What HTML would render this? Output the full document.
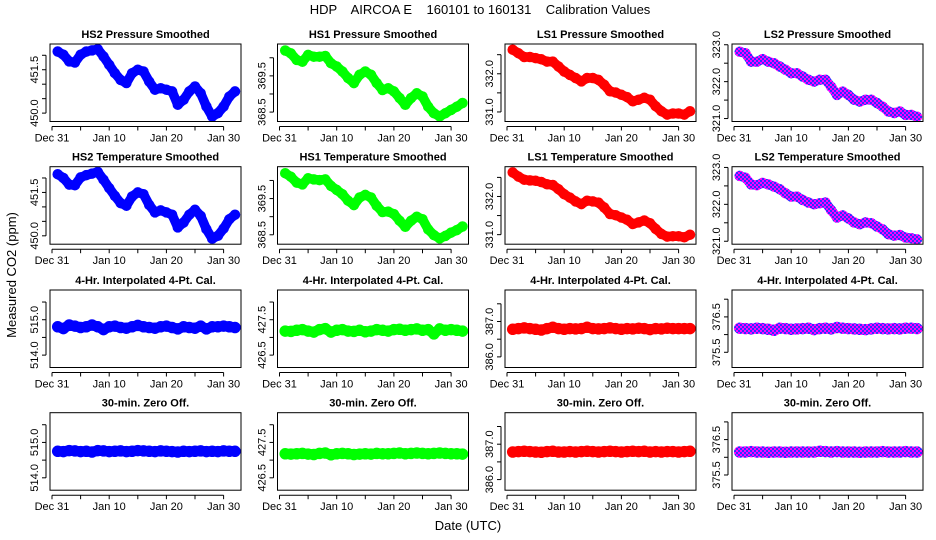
<!DOCTYPE html>
<html><head><meta charset="utf-8">
<style>
html,body{margin:0;padding:0;background:#fff;}
svg{display:block;font-family:"Liberation Sans",Arial,sans-serif;}
</style></head>
<body>
<svg id="chart" width="936" height="540" viewBox="0 0 936 540" xmlns="http://www.w3.org/2000/svg">
<defs>
<pattern id="chk" patternUnits="userSpaceOnUse" width="4" height="4">
<rect width="4" height="4" fill="#ff00ff"/>
<rect x="0" y="0" width="2" height="2" fill="#3030ff"/>
<rect x="2" y="2" width="2" height="2" fill="#3030ff"/>
</pattern>
</defs>
<text x="480" y="14" font-size="13" text-anchor="middle" xml:space="preserve">HDP    AIRCOA E    160101 to 160131    Calibration Values</text>
<text x="468" y="530" font-size="13" text-anchor="middle">Date (UTC)</text>
<text x="0" y="0" font-size="13" text-anchor="middle" transform="translate(16,275) rotate(-90)">Measured CO2 (ppm)</text>
<g id="panels"></g>
</svg>
<script>
// ---- data ----
var days = [1,2,3,4,5,6,7,8,9,10,11,12,13,14,15,16,17,18,19,20,21,22,23,24,25,26,27,28,29,30,31,32];
var xTickDays = [0,5,10,15,20,25,30];
var xTickLabels = ["Dec 31","","Jan 10","","Jan 20","","Jan 30"];

var hs2Pressure = [452.13,452.02,451.79,451.75,452.02,452.13,452.17,452.21,451.96,451.67,451.38,451.15,451.04,451.38,451.50,451.44,451.09,450.81,450.86,450.81,450.75,450.29,450.46,450.75,450.92,450.69,450.23,449.88,450.00,450.23,450.57,450.75];
var hs2Temp = [452.13,452.00,451.77,451.75,452.02,452.10,452.15,452.21,451.94,451.65,451.38,451.13,451.04,451.36,451.50,451.44,451.07,450.81,450.88,450.81,450.73,450.29,450.46,450.73,450.90,450.69,450.23,449.90,450.00,450.25,450.57,450.73];
var hs1Pressure = [370.20,370.12,369.94,369.89,370.08,370.03,370.03,370.05,369.85,369.76,369.62,369.44,369.30,369.53,369.62,369.53,369.30,369.11,369.16,369.07,368.89,368.70,368.89,369.02,368.93,368.65,368.47,368.38,368.47,368.56,368.65,368.75];
var hs1Temp = [370.20,370.10,369.94,369.89,370.06,370.03,370.01,370.03,369.85,369.74,369.62,369.44,369.32,369.53,369.60,369.53,369.30,369.13,369.14,369.07,368.89,368.72,368.89,369.00,368.93,368.65,368.49,368.40,368.47,368.56,368.63,368.73];
var ls1Pressure = [332.63,332.54,332.44,332.44,332.41,332.38,332.32,332.32,332.19,332.06,331.97,331.89,331.80,331.89,331.89,331.84,331.71,331.54,331.51,331.45,331.39,331.28,331.32,331.37,331.32,331.15,331.02,330.93,330.96,330.96,330.93,331.02];
var ls1Temp = [332.63,332.52,332.44,332.42,332.41,332.38,332.32,332.30,332.19,332.06,331.97,331.87,331.80,331.89,331.87,331.84,331.71,331.54,331.51,331.45,331.39,331.28,331.32,331.37,331.30,331.15,331.02,330.95,330.96,330.96,330.93,331.00];
var ls2Pressure = [322.81,322.77,322.54,322.54,322.61,322.54,322.50,322.41,322.32,322.23,322.23,322.14,322.05,322.00,322.05,322.05,321.86,321.64,321.73,321.64,321.51,321.46,321.51,321.51,321.42,321.32,321.19,321.15,321.19,321.10,321.10,321.05];
var ls2Temp = [322.77,322.72,322.54,322.52,322.58,322.54,322.48,322.41,322.30,322.21,322.21,322.12,322.05,322.00,322.03,322.05,321.84,321.64,321.70,321.62,321.51,321.46,321.51,321.49,321.40,321.32,321.19,321.15,321.17,321.10,321.08,321.05];
var hs2Interp = [514.80,514.75,514.85,514.82,514.78,514.80,514.85,514.80,514.72,514.80,514.82,514.78,514.76,514.80,514.84,514.80,514.78,514.76,514.80,514.82,514.78,514.74,514.80,514.78,514.76,514.82,514.74,514.80,514.80,514.82,514.80,514.78];
var hs2Zero = [514.75,514.74,514.77,514.76,514.74,514.75,514.73,514.77,514.76,514.74,514.75,514.76,514.74,514.75,514.77,514.76,514.75,514.74,514.76,514.75,514.74,514.73,514.75,514.74,514.75,514.76,514.74,514.75,514.74,514.76,514.75,514.75];
var hs1Interp = [427.18,427.17,427.20,427.22,427.18,427.15,427.22,427.25,427.15,427.20,427.22,427.18,427.17,427.20,427.16,427.18,427.22,427.20,427.18,427.22,427.23,427.20,427.22,427.24,427.20,427.22,427.10,427.24,427.20,427.22,427.20,427.18];
var hs1Zero = [427.18,427.17,427.18,427.19,427.17,427.16,427.19,427.20,427.15,427.18,427.19,427.18,427.16,427.17,427.18,427.17,427.19,427.18,427.18,427.19,427.20,427.18,427.19,427.20,427.19,427.18,427.19,427.20,427.19,427.18,427.18,427.17];
var ls1Interp = [386.78,386.80,386.82,386.80,386.78,386.76,386.80,386.84,386.80,386.78,386.80,386.79,386.80,386.84,386.80,386.79,386.80,386.82,386.80,386.78,386.80,386.79,386.81,386.80,386.77,386.80,386.79,386.81,386.80,386.80,386.80,386.80];
var ls1Zero = [386.78,386.79,386.80,386.79,386.78,386.77,386.79,386.80,386.78,386.78,386.79,386.78,386.79,386.80,386.79,386.78,386.79,386.80,386.79,386.78,386.79,386.80,386.79,386.80,386.78,386.79,386.78,386.79,386.79,386.78,386.79,386.80];
var ls2Interp = [376.18,376.17,376.16,376.18,376.17,376.15,376.12,376.18,376.17,376.15,376.16,376.17,376.18,376.14,376.17,376.18,376.16,376.20,376.18,376.17,376.16,376.15,376.14,376.16,376.18,376.17,376.16,376.17,376.16,376.18,376.18,376.17];
var ls2Zero = [376.15,376.15,376.16,376.15,376.15,376.14,376.15,376.15,376.14,376.15,376.15,376.15,376.15,376.15,376.17,376.16,376.15,376.16,376.15,376.15,376.15,376.14,376.15,376.15,376.15,376.16,376.15,376.15,376.15,376.16,376.15,376.15];

var rowTitles = ["Pressure Smoothed","Temperature Smoothed","4-Hr. Interpolated 4-Pt. Cal.","30-min. Zero Off."];
var colNames = ["HS2","HS1","LS1","LS2"];
var seriesGrid = [
 [hs2Pressure, hs1Pressure, ls1Pressure, ls2Pressure],
 [hs2Temp, hs1Temp, ls1Temp, ls2Temp],
 [hs2Interp, hs1Interp, ls1Interp, ls2Interp],
 [hs2Zero, hs1Zero, ls1Zero, ls2Zero]
];
var yRange12 = [[449.71,452.39],[368.24,370.38],[330.75,332.78],[320.92,323.02]];
var yRange34 = [[513.65,515.84],[426.15,428.34],[385.70,387.89],[375.07,377.26]];
var yTicks12 = [[450.0,450.5,451.0,451.5,452.0],[368.5,369.0,369.5,370.0],[331.0,331.5,332.0,332.5],[321.0,321.5,322.0,322.5,323.0]];
var yLabels12 = [["450.0","","","451.5",""],["368.5","","369.5",""],["331.0","","332.0",""],["321.0","","322.0","","323.0"]];
var yTicks34 = [[514.0,514.5,515.0,515.5],[426.5,427.0,427.5,428.0],[386.0,386.5,387.0,387.5],[375.5,376.0,376.5,377.0]];
var yLabels34 = [["514.0","","515.0",""],["426.5","","427.5",""],["386.0","","387.0",""],["375.5","","376.5",""]];

// ---- layout ----
var NS = "http://www.w3.org/2000/svg";
var colLeft = [50, 277.5, 505, 732];
var rowTop = [44, 166.7, 290, 412.7];
var boxW = 191, boxH = 77.5;
var colors = ["#0000ff","#00ff00","#ff0000","url(#chk)"];
var root = document.getElementById("panels");
function mk(tag, attrs, parent){
  var e = document.createElementNS(NS, tag);
  for (var k in attrs) e.setAttribute(k, attrs[k]);
  parent.appendChild(e);
  return e;
}
function xScale(L, d){ return L + 2 + d * 5.72; }
function yScale(T, rng, v){ return T + boxH * (rng[1] - v) / (rng[1] - rng[0]); }

for (var r = 0; r < 4; r++){
  for (var c = 0; c < 4; c++){
    var L = colLeft[c], T = rowTop[r];
    var rng = r < 2 ? yRange12[c] : yRange34[c];
    var ticks = r < 2 ? yTicks12[c] : yTicks34[c];
    var labs = r < 2 ? yLabels12[c] : yLabels34[c];
    var g = mk("g", {}, root);
    
    
    var t = mk("text", {x: L + boxW/2, y: T - 6, "font-size": 11, "font-weight": "bold", "text-anchor": "middle"}, g);
    
    
    t.textContent = (r < 2 ? colNames[c] + " " : "") + rowTitles[r];
    // series
    var vals = seriesGrid[r][c];
    var pts = [];
    for (var i = 0; i < vals.length; i++) pts.push(xScale(L, days[i]).toFixed(1) + "," + yScale(T, rng, vals[i]).toFixed(1));
    var sw = r < 2 ? 9.5 : 10.5;
    var pl = mk("polyline", {points: pts.join(" "), fill: "none", stroke: colors[c], "stroke-width": sw, "stroke-linejoin": "round", "stroke-linecap": "round"}, g);
    
    
    for (var j = 0; j < vals.length; j++){
      var ci = mk("circle", {cx: xScale(L, days[j]).toFixed(1), cy: yScale(T, rng, vals[j]).toFixed(1), r: sw/2 + 0.5, fill: colors[c]}, g);
      
      
    }
    // box
    var bx = mk("rect", {x: L, y: T, width: boxW, height: boxH, fill: "none", stroke: "#000", "stroke-width": 1}, g);
    
    
    // x axis
    var ay = T + boxH + 5;
    var ax = mk("line", {x1: xScale(L, 0), x2: xScale(L, 30), y1: ay, y2: ay, stroke: "#000"}, g);
    
    
    for (var k = 0; k < xTickDays.length; k++){
      var xx = xScale(L, xTickDays[k]);
      mk("line", {x1: xx, x2: xx, y1: ay, y2: ay + 4, stroke: "#000"}, g);
      if (xTickLabels[k]){
        var tl = mk("text", {x: xx, y: ay + 15, "font-size": 11, "text-anchor": "middle"}, g);
        
        
        tl.textContent = xTickLabels[k];
      }
    }
    // y axis
    var yAx = L - 4;
    var yt0 = yScale(T, rng, ticks[0]), yt1 = yScale(T, rng, ticks[ticks.length-1]);
    var yl = mk("line", {x1: yAx, x2: yAx, y1: yt0, y2: yt1, stroke: "#000"}, g);
    
    
    for (var m = 0; m < ticks.length; m++){
      var yy = yScale(T, rng, ticks[m]);
      mk("line", {x1: yAx - 4, x2: yAx, y1: yy, y2: yy, stroke: "#000"}, g);
      if (labs[m]){
        var yl2 = mk("text", {x: 0, y: 0, "font-size": 11, "text-anchor": "middle", transform: "translate(" + (yAx - 8) + "," + yy.toFixed(1) + ") rotate(-90)"}, g);
        
        
        yl2.textContent = labs[m];
      }
    }
  }
}
</script>
</body></html>
